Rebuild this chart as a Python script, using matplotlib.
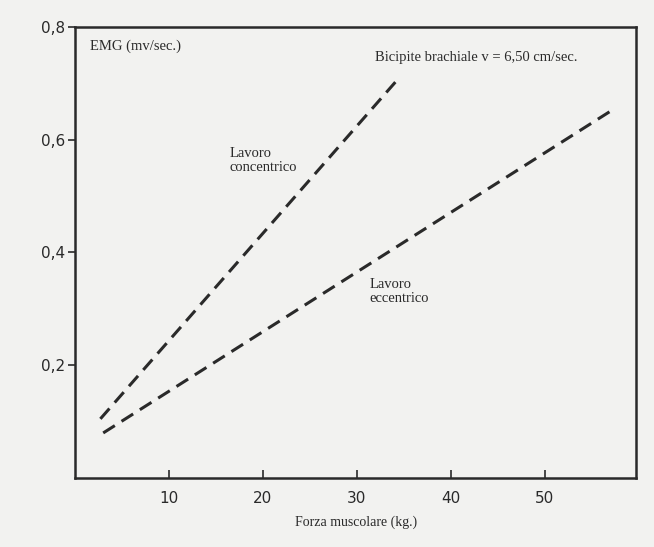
import matplotlib
matplotlib.use('Agg')
import matplotlib.pyplot as plt

# rette EMG / forza (bicipite brachiale)
conc_x = [2.7, 34.4]
conc_y = [0.105, 0.708]
ecc_x = [3.0, 57.4]
ecc_y = [0.080, 0.655]

xticks = [10, 20, 30, 40, 50]
yticks = [0.2, 0.4, 0.6, 0.8]
ytick_labels = ['0,2', '0,4', '0,6', '0,8']

paper = '#f2f2f0'
ink = '#2a2a2a'
serif = ['Liberation Serif', 'DejaVu Serif']

fig = plt.figure(figsize=(6.54, 5.47), dpi=100, facecolor=paper)
ax = fig.add_axes([0.1147, 0.126, 0.858, 0.825], facecolor=paper)

ax.plot(conc_x, conc_y, color=ink, lw=2.2, dashes=(4.5, 2.6))
ax.plot(ecc_x, ecc_y, color=ink, lw=2.2, dashes=(4.5, 2.6))

ax.set_xlim(0, 59.7)
ax.set_ylim(0, 0.8)
ax.set_xticks(xticks)
ax.set_xticklabels([str(v) for v in xticks])
ax.set_yticks(yticks)
ax.set_yticklabels(ytick_labels)
ax.tick_params(axis='x', direction='in', length=6, width=1.2, colors=ink,
               labelsize=11, pad=9)
ax.tick_params(axis='y', direction='out', length=5, width=1.2, colors=ink,
               labelsize=11, pad=2)
for s in ax.spines.values():
    s.set_color(ink)
    s.set_linewidth(1.8)

ax.set_xlabel('Forza muscolare (kg.)', family=serif, fontsize=10, color=ink,
              labelpad=7)

ax.text(1.6, 0.765, 'EMG (mv/sec.)', family=serif, fontsize=10.5, color=ink,
        va='center', ha='left')
ax.text(31.9, 0.745, 'Bicipite brachiale v = 6,50 cm/sec.', family=serif,
        fontsize=10.5, color=ink, va='center', ha='left')
ax.text(16.4, 0.563, 'Lavoro\nconcentrico', family=serif, fontsize=10.5,
        color=ink, va='center', ha='left', linespacing=1.15)
ax.text(31.3, 0.331, 'Lavoro\neccentrico', family=serif, fontsize=10.5,
        color=ink, va='center', ha='left', linespacing=1.15)

fig.savefig('out.png', dpi=100, facecolor=paper)
